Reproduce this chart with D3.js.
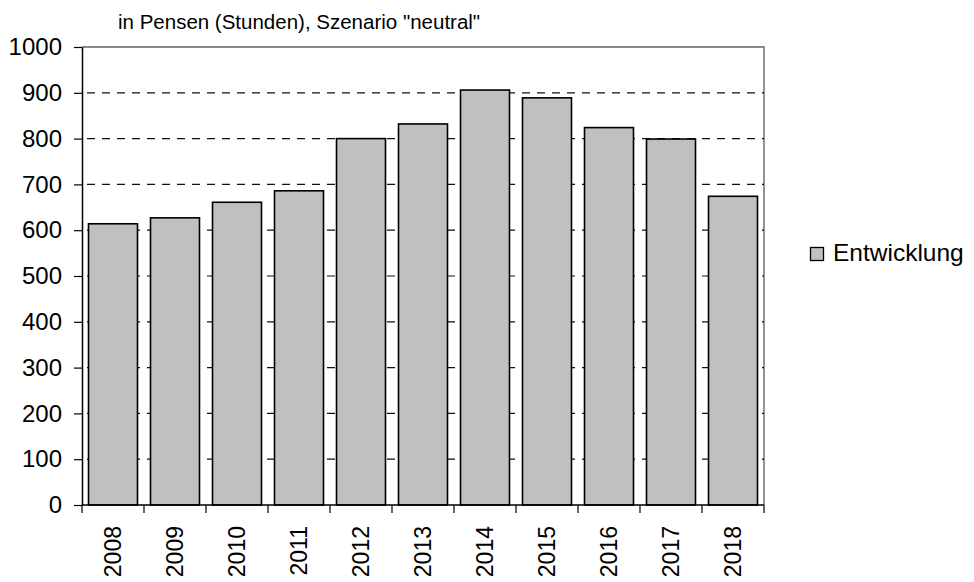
<!DOCTYPE html>
<html>
<head>
<meta charset="utf-8">
<script src="https://cdn.jsdelivr.net/npm/d3@7"></script>
<style>
  body { margin: 0; background: #fff; }
  svg { font-family: "Liberation Sans", Arial, sans-serif; }
</style>
</head>
<body>
<svg id="chart" width="974" height="582"></svg>
<script>
// data
var years = ["2008", "2009", "2010", "2011", "2012", "2013", "2014", "2015", "2016", "2017", "2018"];
var values = [614, 627, 661, 686, 800, 832, 906, 889, 824, 799, 674];
var yTicks = [0, 100, 200, 300, 400, 500, 600, 700, 800, 900, 1000];
var title = 'in Pensen (Stunden), Szenario "neutral"';
var legendLabel = "Entwicklung";

var plotLeft = 82, plotRight = 764, plotTop = 47, plotBottom = 505;
var svg = d3.select("#chart");

var x = d3.scaleBand()
    .domain(years)
    .range([plotLeft, plotRight])
    .paddingInner(0.21)
    .paddingOuter(0.105);

var y = d3.scaleLinear()
    .domain([0, 1000])
    .range([plotBottom, plotTop]);

// frame: grey top + right
svg.append("path")
    .attr("d", "M" + plotLeft + "," + plotTop + "H" + plotRight + "V" + plotBottom)
    .attr("fill", "none")
    .attr("stroke", "#888")
    .attr("stroke-width", 1.8);

// dashed grid lines
svg.append("g")
  .selectAll("line")
  .data(yTicks.filter(function(d) { return d > 0 && d < 1000; }))
  .enter().append("line")
    .attr("x1", plotLeft + 5)
    .attr("x2", plotRight)
    .attr("y1", function(d) { return y(d); })
    .attr("y2", function(d) { return y(d); })
    .attr("stroke", "#111")
    .attr("stroke-width", 1.2)
    .attr("stroke-dasharray", "8,7");

// bars
svg.append("g")
  .selectAll("rect")
  .data(values)
  .enter().append("rect")
    .attr("x", function(d, i) { return x(years[i]); })
    .attr("y", function(d) { return y(d); })
    .attr("width", x.bandwidth())
    .attr("height", function(d) { return plotBottom - y(d); })
    .attr("fill", "#c0c0c0")
    .attr("stroke", "#000")
    .attr("stroke-width", 1.6);

// y axis
var yAxis = svg.append("g")
    .attr("transform", "translate(" + plotLeft + ",0)")
    .call(d3.axisLeft(y).tickValues(yTicks).tickFormat(d3.format("d"))
      .tickSize(8).tickPadding(12).tickSizeOuter(0));
yAxis.attr("font-size", null).attr("font-family", null);
yAxis.selectAll("text")
    .attr("font-size", 24)
    .attr("fill", "#000");
yAxis.select(".domain").attr("stroke", "#000").attr("stroke-width", 1.5);
yAxis.selectAll(".tick line").attr("stroke", "#000").attr("stroke-width", 1.2);

// x axis: ticks sit on the band boundaries
var xAxis = svg.append("g")
    .attr("transform", "translate(0," + plotBottom + ")");
xAxis.append("line")
    .attr("x1", plotLeft).attr("x2", plotRight)
    .attr("stroke", "#000").attr("stroke-width", 1.5);
var step = x.step();
xAxis.selectAll("line.tk")
  .data(d3.range(years.length + 1))
  .enter().append("line")
    .attr("class", "tk")
    .attr("x1", function(i) { return plotLeft + i * step; })
    .attr("x2", function(i) { return plotLeft + i * step; })
    .attr("y1", 0).attr("y2", 8)
    .attr("stroke", "#000").attr("stroke-width", 1.2);
xAxis.selectAll("text")
  .data(years)
  .enter().append("text")
    .attr("transform", function(d) {
      return "translate(" + (x(d) + x.bandwidth() / 2 + 8) + ",21) rotate(-90)";
    })
    .attr("text-anchor", "end")
    .attr("font-size", 23)
    .attr("fill", "#000")
    .text(function(d) { return d; });

// title
svg.append("text")
    .attr("x", 118)
    .attr("y", 29)
    .attr("font-size", 20.5)
    .attr("fill", "#000")
    .text(title);

// legend
svg.append("rect")
    .attr("x", 810.5).attr("y", 247.5)
    .attr("width", 13).attr("height", 13)
    .attr("fill", "#c0c0c0")
    .attr("stroke", "#000")
    .attr("stroke-width", 1.3);
svg.append("text")
    .attr("x", 833)
    .attr("y", 261)
    .attr("font-size", 24.5)
    .attr("fill", "#000")
    .text(legendLabel);
</script>
</body>
</html>
